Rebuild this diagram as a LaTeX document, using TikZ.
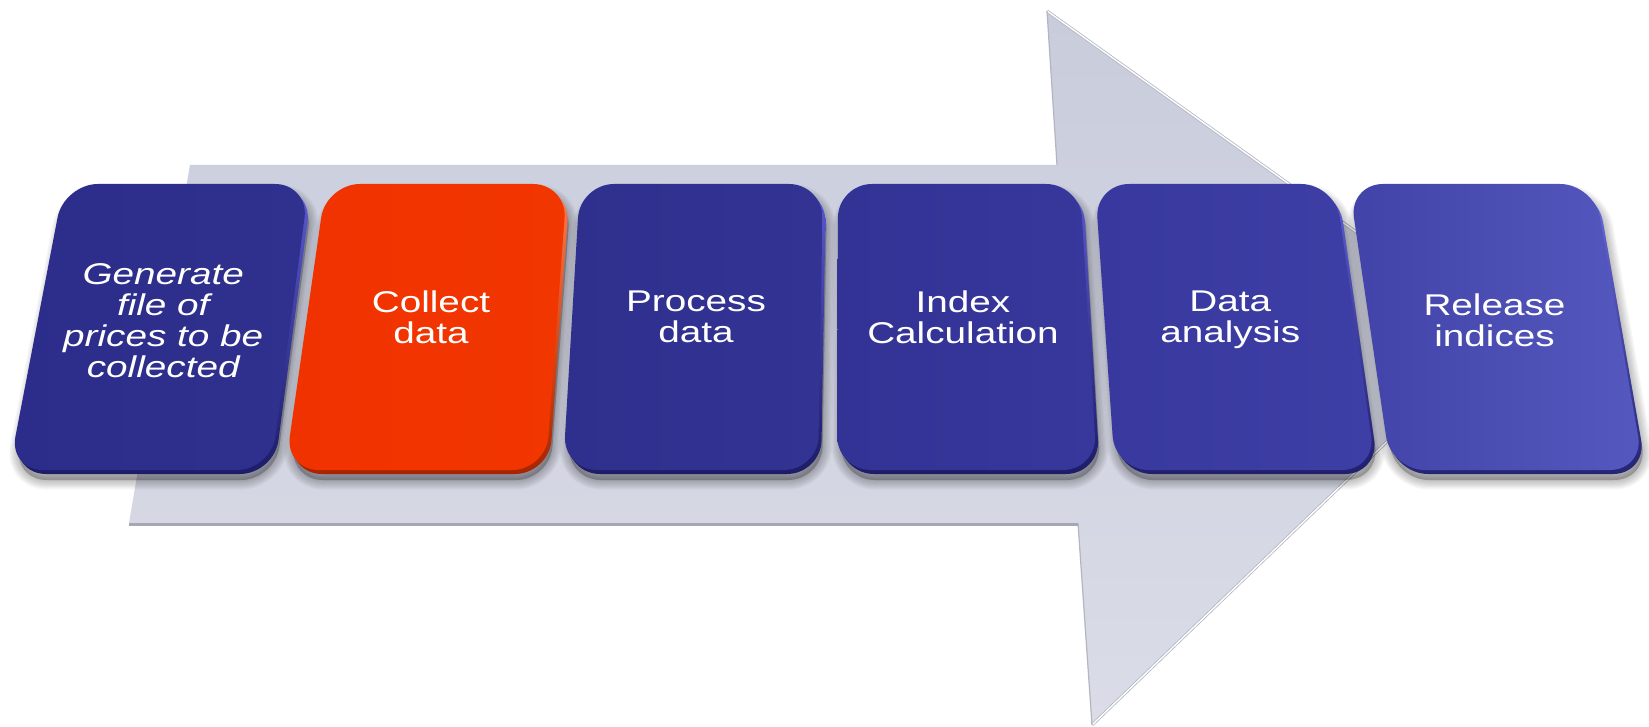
\documentclass[tikz,border=0pt]{standalone}
\usepackage{fontspec}
\setmainfont{Liberation Sans}
\newfontfamily\boxfont[FakeStretch=1.29]{Liberation Sans}
\usetikzlibrary{calc}
% arrow colours
\definecolor{arrowtop}{HTML}{C9CCDB}
\definecolor{arrowbot}{HTML}{DADCE7}
\definecolor{arrowedge}{HTML}{B3B5C3}
\definecolor{shaftline}{HTML}{A5A7B5}
% box colours: l = left, r = right, t = rim top, b = rim bottom
\definecolor{bAl}{HTML}{2C2C8A}\definecolor{bAr}{HTML}{30308F}
\definecolor{bBl}{HTML}{F03200}\definecolor{bBr}{HTML}{F23600}
\definecolor{bCl}{HTML}{2F2F8E}\definecolor{bCr}{HTML}{333394}
\definecolor{bDl}{HTML}{333396}\definecolor{bDr}{HTML}{37379C}
\definecolor{bEl}{HTML}{38389E}\definecolor{bEr}{HTML}{3E3FA6}
\definecolor{bFl}{HTML}{4143A8}\definecolor{bFr}{HTML}{5558BE}
\definecolor{bAt}{HTML}{5A5AD2}\definecolor{bAb}{HTML}{1C1C68}
\definecolor{bBt}{HTML}{FF7A48}\definecolor{bBb}{HTML}{A82400}
\definecolor{bCt}{HTML}{5A5AD2}\definecolor{bCb}{HTML}{1C1C68}
\definecolor{bDt}{HTML}{5A5AD2}\definecolor{bDb}{HTML}{1C1C68}
\definecolor{bEt}{HTML}{5E5ED6}\definecolor{bEb}{HTML}{20206E}
\definecolor{bFt}{HTML}{6A6ADC}\definecolor{bFb}{HTML}{252575}
\tikzset{
  boxshape/.style={rounded corners=34pt},
  boxtext/.style={text=white, align=center, inner sep=0pt,
    font=\boxfont\fontsize{30}{31}\selectfont},
}
% #1 name, #2 TLx, #3 TRx, #4 BRx, #5 BLx, #6 colour key, #7 text y, #8 text
\newcommand\procbox[8]{%
  \begin{scope}[shift={(4,10)}]
    \foreach \k in {1,...,8}{
      \filldraw[black, opacity=0.03, line width=\k*2.4pt, boxshape, line join=round]
        (#2,184) -- (#3,184) -- (#4,470) -- (#5,470) -- cycle;
    }
  \end{scope}
  \begin{scope}[shift={(3,4)}]
    \shade[boxshape, top color=#6t, bottom color=#6b]
      (#2,184) -- (#3,184) -- (#4,470) -- (#5,470) -- cycle;
  \end{scope}
  \shade[boxshape, left color=#6l, right color=#6r]
    (#2,184) -- (#3,184) -- (#4,470) -- (#5,470) -- cycle;
  \pgfmathsetmacro\cx{(#2+#3+#4+#5)/4}
  \node[boxtext] (#1) at (\cx,#7) {#8};
}
\begin{document}
\begin{tikzpicture}[x=1pt,y=-1pt]
\useasboundingbox (0,0) rectangle (1649,727);
\fill[white] (0,0) rectangle (1649,727);
% big arrow
\coordinate (a1) at (190,165);
\coordinate (a2) at (1057,165);
\coordinate (a3) at (1047,11);
\coordinate (a4) at (1499,334);
\coordinate (a5) at (1092,725);
\coordinate (a6) at (1078,523);
\coordinate (a7) at (129,523);
\shade[top color=arrowtop, bottom color=arrowbot]
  (a1) -- (a2) -- (a3) -- (a4) -- (a5) -- (a6) -- (a7) -- cycle;
\draw[arrowedge, line width=3pt, line join=round] (a3) -- (a4) -- (a5);
\draw[white, line width=1.4pt, line join=round] (a3) -- (a4) -- (a5);
\draw[arrowedge, line width=1.2pt] (a2) -- (a3);
\draw[arrowedge, line width=1.2pt] (a6) -- (a5);
\draw[shaftline, line width=3pt] ([yshift=-1.5pt]a7) -- ([yshift=-1.5pt]a6);
% process boxes
\procbox{gen}{64}{309}{271}{9}{bA}{321}{\itshape Generate\\\itshape file of\\\itshape prices to be\\\itshape collected}
\procbox{collect}{326}{567}{546}{285}{bB}{317}{Collect\\data}
\procbox{process}{580}{823}{818}{563}{bC}{317}{Process\\data}
\procbox{index}{838}{1080}{1097}{837}{bD}{317}{Index\\Calculation}
\procbox{analysis}{1095}{1335}{1376}{1115}{bE}{320}{Data\\analysis}
\procbox{release}{1349}{1594}{1644}{1391}{bF}{320}{Release\\indices}
\end{tikzpicture}
\end{document}
